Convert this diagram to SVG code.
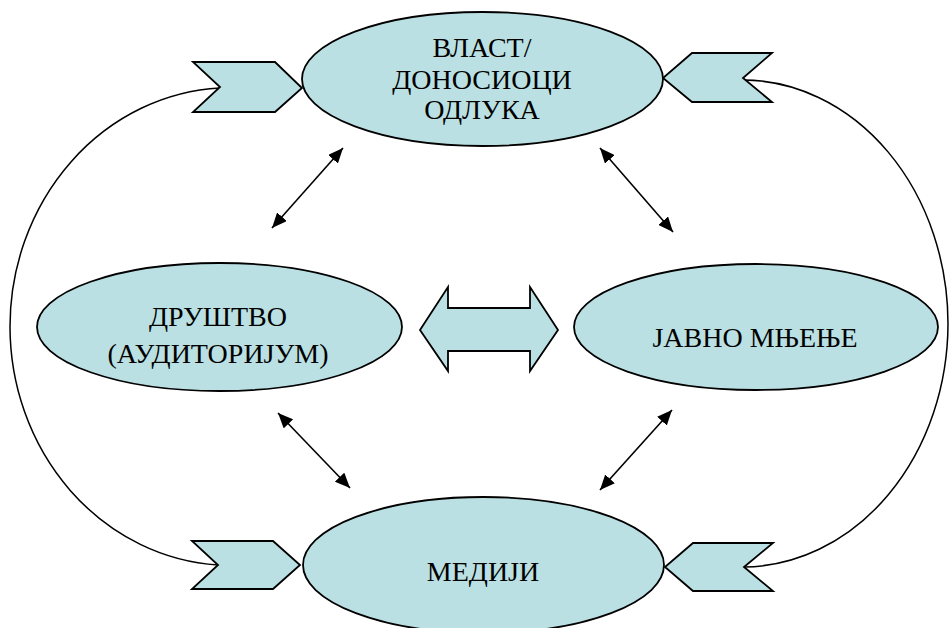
<svg xmlns="http://www.w3.org/2000/svg" width="950" height="628" viewBox="0 0 950 628">
  <defs>
    <marker id="head" viewBox="0 0 15 13" markerWidth="15" markerHeight="13" refX="15" refY="6.5" orient="auto-start-reverse" markerUnits="userSpaceOnUse">
      <path d="M0,0 L15,6.5 L0,13 z" fill="#000"/>
    </marker>
  </defs>
  <style>
    .shape { fill: #BBE0E3; stroke: #000; stroke-width: 1.8; }
    .loop { fill: none; stroke: #000; stroke-width: 1.5; }
    .link { fill: none; stroke: #000; stroke-width: 1.6; marker-start: url(#head); marker-end: url(#head); }
    .label { font-size: 28px; fill: #000; text-anchor: middle; }
  </style>
  <rect width="950" height="628" fill="#fff"/>

  <!-- connectors -->
  <g id="connectors">
    <path class="loop" d="M 220 88 A 221 239 0 0 0 10 326.5 A 221 239 0 0 0 218 565"/>
    <path class="loop" d="M 743 80 A 206 244 0 0 1 948 324 A 206 244 0 0 1 744 567"/>
    <line class="link" x1="272" y1="228" x2="343" y2="148"/>
    <line class="link" x1="600" y1="148" x2="673" y2="232"/>
    <line class="link" x1="278" y1="413" x2="350" y2="488"/>
    <line class="link" x1="672" y1="410" x2="600" y2="490"/>
    <polygon class="shape" points="420,330 448,287 448,308 530,308 530,287 558,330 530,371 530,351 448,351 448,371"/>
  </g>

  <g font-family="Liberation Serif, Times New Roman, serif">
    <!-- top: power / decision makers -->
    <g id="vlast">
      <polygon class="shape" points="193,62 275,62 302,88 275,112 193,112 220,87"/>
      <polygon class="shape" points="772,53 692,53 663,78 692,102 772,102 743,78"/>
      <ellipse class="shape" cx="482.5" cy="79" rx="180.5" ry="67"/>
      <text class="label" x="482" y="57">ВЛАСТ/</text>
      <text class="label" x="482" y="89">ДОНОСИОЦИ</text>
      <text class="label" x="482" y="119">ОДЛУКА</text>
    </g>

    <!-- left: society -->
    <g id="drustvo">
      <ellipse class="shape" cx="219.5" cy="327" rx="182.5" ry="64"/>
      <text class="label" x="218" y="326">ДРУШТВО</text>
      <text class="label" x="218" y="363">(АУДИТОРИЈУМ)</text>
    </g>

    <!-- right: public opinion -->
    <g id="javno-mnjenje">
      <ellipse class="shape" cx="756" cy="327" rx="182" ry="63"/>
      <text class="label" x="755" y="347">ЈАВНО МЊЕЊЕ</text>
    </g>

    <!-- bottom: media -->
    <g id="mediji">
      <polygon class="shape" points="192,541 273,541 300,565 273,589 192,589 218,565"/>
      <polygon class="shape" points="773,543 693,543 665,567 693,591 773,591 744,567"/>
      <ellipse class="shape" cx="483.5" cy="565" rx="180.5" ry="68"/>
      <text class="label" x="483" y="581">МЕДИЈИ</text>
    </g>
  </g>
</svg>
